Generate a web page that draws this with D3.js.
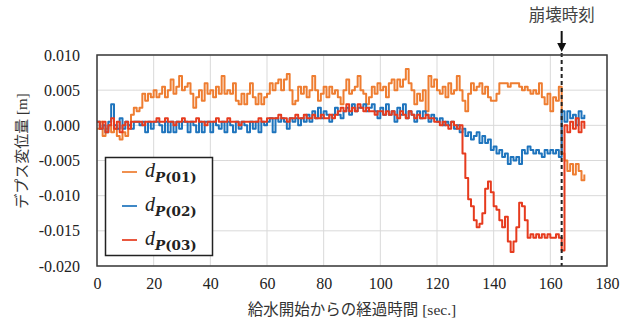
<!DOCTYPE html>
<html><head><meta charset="utf-8">
<script src="https://cdn.jsdelivr.net/npm/d3@7"></script>
<style>body{margin:0;background:#fff}svg{display:block}</style>
</head><body>
<svg id="c" width="634" height="320"></svg>
<script>
// time [sec.]
const time = [0,1,2,3,4,5,6,7,8,9,10,11,12,13,14,15,16,17,18,19,20,21,22,23,24,25,26,27,28,29,30,31,32,33,34,35,36,37,38,39,40,41,42,43,44,45,46,47,48,49,50,51,52,53,54,55,56,57,58,59,60,61,62,63,64,65,66,67,68,69,70,71,72,73,74,75,76,77,78,79,80,81,82,83,84,85,86,87,88,89,90,91,92,93,94,95,96,97,98,99,100,101,102,103,104,105,106,107,108,109,110,111,112,113,114,115,116,117,118,119,120,121,122,123,124,125,126,127,128,129,130,131,132,133,134,135,136,137,138,139,140,141,142,143,144,145,146,147,148,149,150,151,152,153,154,155,156,157,158,159,160,161,162,163,164,165,166,167,168,169,170,171,172];
// dP(01) [m]
const dP01 = [-0.0005,0.0005,-0.0015,-0.0005,0,-0.001,-0.0005,-0.0015,-0.002,-0.001,-0.0015,0,0.0015,0.0025,0.002,0.0025,0.0045,0.0035,0.0045,0.004,0.005,0.004,0.0045,0.0055,0.004,0.005,0.0065,0.0045,0.0055,0.007,0.005,0.0055,0.006,0.0045,0.0025,0.004,0.005,0.0035,0.006,0.0045,0.005,0.004,0.0055,0.0045,0.007,0.0045,0.005,0.0045,0.006,0.0035,0.003,0.0045,0.003,0.0045,0.006,0.004,0.003,0.0045,0.003,0.004,0.0045,0.006,0.005,0.006,0.0065,0.005,0.0065,0.0073,0.005,0.003,0.0035,0.0055,0.0045,0.0055,0.004,0.005,0.007,0.005,0.0035,0.0045,0.0055,0.004,0.0055,0.0045,0.005,0.004,0.003,0.005,0.0065,0.0045,0.005,0.0055,0.007,0.005,0.0045,0.003,0.004,0.0055,0.0045,0.006,0.005,0.0055,0.004,0.006,0.0065,0.005,0.0065,0.0055,0.0065,0.008,0.006,0.005,0.003,0.0045,0.0035,0.005,0.002,0.007,0.0055,0.0065,0.005,0.0045,0.0055,0.004,0.006,0.0045,0.005,0.007,0.005,0.0035,0.002,0.0045,0.006,0.005,0.0055,0.006,0.0045,0.0055,0.004,0.0035,0.0035,0.0045,0.006,0.006,0.006,0.0055,0.006,0.006,0.006,0.0055,0.005,0.0055,0.005,0.0045,0.005,0.0045,0.006,0.004,0.003,0.0045,0.002,0.004,0.0035,0.0055,-0.004,-0.005,-0.0065,-0.0055,-0.007,-0.0055,-0.0065,-0.0078,-0.007];
// dP(02) [m]
const dP02 = [0.0005,-0.0005,0,-0.001,0.0005,0.003,0,-0.0005,0.001,-0.0005,0.0005,0,-0.0005,0.0005,0.0005,0,0.0005,-0.001,0.0005,-0.0005,0.0005,0.0005,0,-0.001,0.0005,-0.001,0.0005,-0.001,0.0005,-0.0005,0.0005,0.0005,-0.001,0.0005,0,-0.001,0.0005,-0.001,0.0005,0.0005,-0.001,0.0005,0,-0.0005,0.0005,-0.001,0.0005,0,-0.001,0.0005,-0.0005,0.0005,0,-0.001,0.0005,-0.0005,0.0005,-0.001,0.0005,0,0.0005,0.001,-0.001,0.001,0.0005,0.001,0.0005,-0.0005,0.001,0.0005,0.001,0,0.001,0.0005,0.0015,0.0005,0.002,0.001,0.0025,0.001,0.002,0.0015,0.0005,0.0015,0.0025,0.0015,0.001,0.002,0.0025,0.0015,0.003,0.002,0.0025,0.0025,0.003,0.002,0.0025,0.003,0.002,0.001,0.0025,0.0015,0.003,0.0015,0.002,0.0005,0.0025,0.0015,0.003,0.001,0.002,0.0015,0.0005,0.002,0.001,0.002,0.0015,0.0005,0.0015,0.001,0.0005,0.001,0,0.0005,0,0.0005,-0.0005,0,-0.001,-0.0005,-0.0015,-0.001,-0.002,-0.0015,-0.001,-0.0025,-0.0015,-0.0025,-0.002,-0.0035,-0.003,-0.004,-0.0035,-0.0045,-0.004,-0.0055,-0.0045,-0.005,-0.0045,-0.0055,-0.0035,-0.004,-0.003,-0.0035,-0.004,-0.0035,-0.004,-0.0045,-0.0035,-0.004,-0.0035,-0.004,-0.0035,-0.0045,0.002,0.0005,0.002,0.001,0.0015,0,0.002,0.001,0.0015];
// dP(03) [m]
const dP03 = [0.0005,-0.0005,0.0005,-0.001,0,0.001,-0.0005,0.0005,-0.001,0,0.0005,-0.0005,0.0005,0.0005,0.0005,0.0005,0,0.0005,0.0005,0.0005,0.0005,0.001,0.0005,0.0005,0.001,0.0005,0.0005,0,0.0005,0.0005,0.001,0.0005,0.0005,0.0005,0.0005,0.001,0.0005,0.0005,0,0.0005,0.0005,0.0005,0.001,0.0005,0.0005,0.0005,0.001,0.0005,0.0005,0.0005,0,0.0005,0.0005,0.0005,0.0005,0.0005,0.0005,0.001,0.0005,0.0005,0.001,0.001,0.001,0.001,0.0015,0.001,0.001,0.0005,0.001,0.001,0.0015,0.001,0.001,0.0015,0.001,0.001,0.0015,0.001,0.001,0.0015,0.001,0.001,0.0015,0.001,0.0015,0.002,0.0025,0.002,0.003,0.002,0.0025,0.002,0.003,0.0025,0.002,0.0025,0.002,0.002,0.0015,0.002,0.002,0.0015,0.002,0.0015,0.002,0.0015,0.001,0.002,0.0015,0.001,0.002,0.0015,0.001,0.0015,0.001,0.001,0.0015,0.001,0.001,0.0005,0.0005,0,0.0005,0,-0.0005,0.0005,0,-0.0005,0,-0.004,-0.0075,-0.0105,-0.0115,-0.0135,-0.0145,-0.014,-0.0125,-0.009,-0.008,-0.0095,-0.0115,-0.012,-0.0135,-0.0145,-0.013,-0.0165,-0.018,-0.0165,-0.0145,-0.011,-0.0115,-0.0135,-0.016,-0.0155,-0.016,-0.0155,-0.016,-0.0155,-0.016,-0.0155,-0.016,-0.016,-0.0155,-0.016,-0.0178,0,-0.001,0.0005,-0.0005,0.001,-0.001,0.0005,-0.0005,0];
const seriesNames = ["01","02","03"];
const seriesColors = ["#EE7D31","#1E74BD","#E63B1E"];
const xTicks = [0,20,40,60,80,100,120,140,160,180];
const yTicks = [0.010,0.005,0.000,-0.005,-0.010,-0.015,-0.020];
const yTickLabels = ["0.010","0.005","0.000","-0.005","-0.010","-0.015","-0.020"];
const collapseTime = 164;
const xTitle = "給水開始からの経過時間";
const xUnit = "[sec.]";
const yTitle = "デプス変位量";
const yUnit = "[m]";
const collapseLabel = "崩壊時刻";

const svg = d3.select("#c");
const L = 97, R = 607, T = 55, B = 266;
const x = d3.scaleLinear().domain([0,180]).range([L,R]);
const y = d3.scaleLinear().domain([-0.020,0.010]).range([B,T]);
const serif = "'Liberation Serif','Times New Roman',serif";
const jp = "'Noto Sans CJK JP','Noto Sans',sans-serif";

svg.append("rect").attr("width",634).attr("height",320).attr("fill","#fff");

// grid
const g = svg.append("g");
g.selectAll(".vx").data(xTicks).join("line")
  .attr("x1",d=>x(d)).attr("x2",d=>x(d)).attr("y1",T).attr("y2",B)
  .attr("stroke","#d9d9d9").attr("stroke-width",1);
g.selectAll(".hy").data(yTicks).join("line")
  .attr("x1",L).attr("x2",R).attr("y1",d=>y(d)).attr("y2",d=>y(d))
  .attr("stroke","#d9d9d9").attr("stroke-width",1);

// axes labels via d3 axes
const xAxis = d3.axisBottom(x).tickValues(xTicks).tickSize(0).tickPadding(12).tickFormat(d3.format("d"));
const xa = svg.append("g").attr("transform",`translate(0,${B})`).call(xAxis);
xa.select(".domain").remove();
xa.selectAll("text").attr("font-family",serif).attr("font-size",16).attr("fill","#222");

const yAxis = d3.axisLeft(y).tickValues(yTicks).tickSize(0).tickPadding(17)
  .tickFormat((d,i)=>yTickLabels[i]);
const ya = svg.append("g").attr("transform",`translate(${L},0)`).call(yAxis);
ya.select(".domain").remove();
ya.selectAll("text").attr("font-family",serif).attr("font-size",16).attr("fill","#222");

// series lines
const all = [dP01,dP02,dP03];
const line = d3.line().x((d,i)=>x(time[i])).y(d=>y(d)).curve(d3.curveStepAfter);
const clip = svg.append("clipPath").attr("id","pc").append("rect").attr("x",L).attr("y",T).attr("width",R-L).attr("height",B-T);
const lg = svg.append("g").attr("clip-path","url(#pc)");
[0,1,2].forEach(k=>{
  lg.append("path").datum(all[k]).attr("d",line).attr("fill","none")
    .attr("stroke",seriesColors[k]).attr("stroke-width",2).attr("stroke-linejoin","round");
});

// collapse line
svg.append("line").attr("x1",x(collapseTime)).attr("x2",x(collapseTime)).attr("y1",T-2).attr("y2",B)
  .attr("stroke","#222").attr("stroke-width",2).attr("stroke-dasharray","4,3");

// frame
svg.append("rect").attr("x",L).attr("y",T).attr("width",R-L).attr("height",B-T)
  .attr("fill","none").attr("stroke","#3a3a3a").attr("stroke-width",1.5);

// arrow & label
const ax = x(collapseTime);
svg.append("line").attr("x1",ax).attr("x2",ax).attr("y1",31).attr("y2",44).attr("stroke","#111").attr("stroke-width",2);
svg.append("path").attr("d",`M${ax-4.5},43 L${ax+4.5},43 L${ax},52 Z`).attr("fill","#111");
svg.append("text").attr("x",ax).attr("y",21).attr("text-anchor","middle")
  .attr("font-family",jp).attr("font-size",16.5).attr("fill","#444").text(collapseLabel);

// x title
const xt = svg.append("text").attr("x",352).attr("y",315).attr("text-anchor","middle").attr("fill","#333");
xt.append("tspan").attr("font-family",jp).attr("font-size",15.5).text(xTitle);
xt.append("tspan").attr("font-family",serif).attr("font-size",15.5).text(" "+xUnit);

// y title
const yt = svg.append("text").attr("transform","translate(27,151) rotate(-90)").attr("text-anchor","middle").attr("fill","#333");
yt.append("tspan").attr("font-family",jp).attr("font-size",15).text(yTitle);
yt.append("tspan").attr("font-family",serif).attr("font-size",15).text(" "+yUnit);

// legend
const leg = svg.append("g");
leg.append("rect").attr("x",105.5).attr("y",157.5).attr("width",107).attr("height",98)
  .attr("fill","#fff").attr("stroke","#222").attr("stroke-width",1.5);
const ly = [172,206,240];
seriesNames.forEach((n,k)=>{
  leg.append("line").attr("x1",122).attr("x2",137).attr("y1",ly[k]).attr("y2",ly[k])
    .attr("stroke",seriesColors[k]).attr("stroke-width",2).attr("opacity",0.85);
  const t = leg.append("text").attr("x",145).attr("y",ly[k]+5).attr("font-family",serif).attr("fill","#222");
  t.append("tspan").attr("font-style","italic").attr("font-size",20).text("d");
  t.append("tspan").attr("dy",5).attr("font-size",13.5).attr("font-weight","bold").attr("font-family","'DejaVu Serif',serif")
    .append("tspan").attr("font-style","italic").text("P");
  t.select("tspan:last-child").append("tspan").text("("+n+")");
});
</script>
</body></html>
